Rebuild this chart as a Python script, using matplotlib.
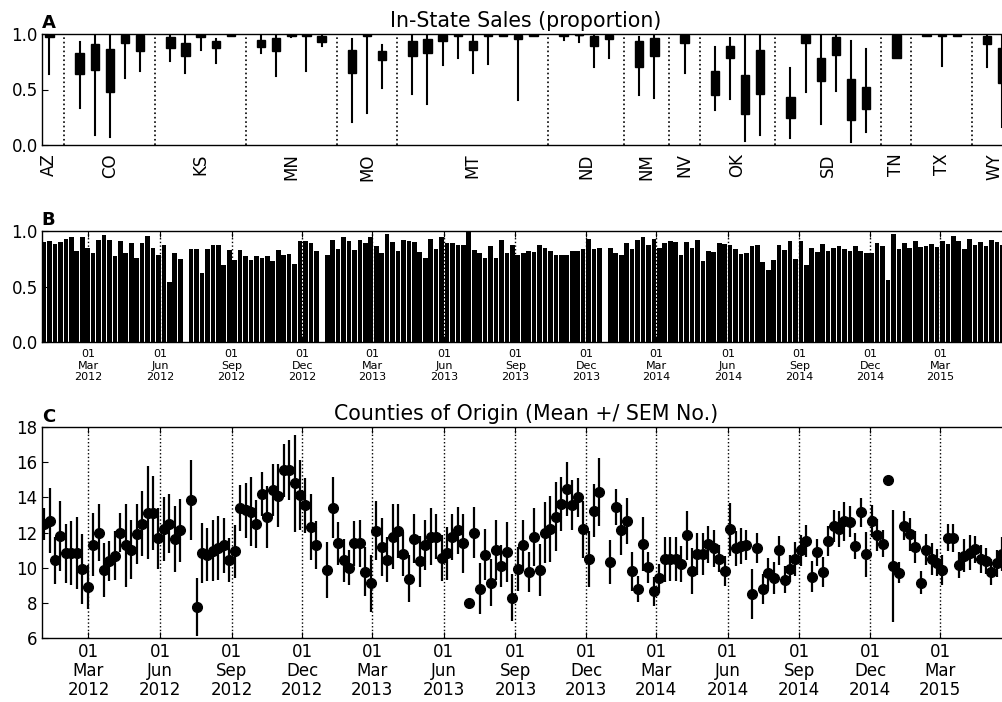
import numpy as np
import matplotlib
matplotlib.use('Agg')
import matplotlib.pyplot as plt
import matplotlib.dates as mdates
import matplotlib.transforms as mtransforms
import pandas as pd
from datetime import datetime

# ---------------- Panel A data: in-state sales proportion boxes ----------------
box_state = ['AZ',
             'CO', 'CO', 'CO', 'CO', 'CO',
             'KS', 'KS', 'KS', 'KS', 'KS',
             'MN', 'MN', 'MN', 'MN', 'MN',
             'MO', 'MO', 'MO',
             'MT', 'MT', 'MT', 'MT', 'MT', 'MT', 'MT', 'MT', 'MT',
             'ND', 'ND', 'ND', 'ND',
             'NM', 'NM',
             'NV',
             'OK', 'OK', 'OK', 'OK',
             'SD', 'SD', 'SD', 'SD', 'SD', 'SD',
             'TN',
             'TX', 'TX', 'TX',
             'WY', 'WY']
box_q1 = [0.975,
          0.64, 0.676, 0.477, 0.922, 0.847,
          0.874, 0.805, 0.976, 0.871, 0.982,
          0.886, 0.85, 0.98, 0.985, 0.928,
          0.652, 0.985, 0.763,
          0.799, 0.832, 0.94, 0.985, 0.856, 0.985, 0.982, 0.955, 0.982,
          0.982, 0.988, 0.892, 0.958,
          0.706, 0.805,
          0.922,
          0.453, 0.787, 0.282, 0.462,
          0.24, 0.922, 0.577, 0.808, 0.228, 0.327,
          0.781,
          0.982, 0.982, 0.982,
          0.91, 0.556]
box_q3 = [1.0,
          0.826, 0.913, 0.862, 0.988, 0.988,
          0.976, 0.922, 1.0, 0.934, 1.0,
          0.949, 0.961, 1.0, 1.0, 0.982,
          0.856, 1.0, 0.85,
          0.934, 0.952, 0.994, 1.0, 0.934, 1.0, 1.0, 0.994, 1.0,
          1.0, 1.0, 0.979, 0.991,
          0.94, 0.964,
          0.994,
          0.67, 0.892, 0.631, 0.856,
          0.429, 0.994, 0.784, 0.97, 0.592, 0.526,
          0.994,
          0.995, 0.995, 0.995,
          0.982, 0.871]
box_lo = [0.64,
          0.336, 0.087, 0.072, 0.607, 0.67,
          0.76, 0.649, 0.859, 0.736, 0.982,
          0.826, 0.625, 0.97, 0.67, 0.892,
          0.207, 0.285, 0.517,
          0.462, 0.372, 0.724, 0.787, 0.646, 0.733, 0.982, 0.405, 0.982,
          0.949, 0.931, 0.706, 0.787,
          0.447, 0.426,
          0.649,
          0.315, 0.417, 0.036, 0.093,
          0.063, 0.474, 0.192, 0.486, 0.03, 0.12,
          0.781,
          0.982, 0.715, 0.982,
          0.706, 0.159]
box_hi = [1.0,
          0.925, 1.0, 1.0, 1.0, 1.0,
          1.0, 1.0, 1.0, 0.955, 1.0,
          0.99, 1.0, 1.0, 1.0, 1.0,
          0.955, 1.0, 0.898,
          1.0, 1.0, 1.0, 1.0, 0.982, 1.0, 1.0, 1.0, 1.0,
          1.0, 1.0, 1.0, 1.0,
          0.973, 0.994,
          1.0,
          0.883, 0.961, 1.0, 1.0,
          0.69, 1.0, 1.0, 0.991, 0.94, 0.868,
          1.0,
          0.995, 0.995, 0.995,
          1.0, 1.0]

# ---------------- Panel B data: weekly in-state proportion ----------------
week_start = '2012-01-04'
instate_weekly = [
    0.90, 0.91, 0.88, 0.90, 0.93, 0.94, 0.82, 0.94, 0.85, 0.80,
    0.92, 0.96, 0.92, 0.77, 0.91, 0.80, 0.89, 0.76, 0.89, 0.95,
    0.85, 0.78, 0.87, 0.54, 0.80, 0.75, 0.00, 0.84, 0.84, 0.62,
    0.84, 0.87, 0.87, 0.69, 0.83, 0.74, 0.83, 0.77, 0.74, 0.77,
    0.76, 0.77, 0.73, 0.83, 0.78, 0.79, 0.70, 0.91, 0.91, 0.89,
    0.82, 0.00, 0.78, 0.92, 0.84, 0.94, 0.91, 0.83, 0.92, 0.89,
    0.94, 0.86, 0.80, 0.97, 0.90, 0.82, 0.92, 0.91, 0.90, 0.81,
    0.76, 0.93, 0.84, 0.94, 0.89, 0.89, 0.87, 0.87, 1.00, 0.83,
    0.80, 0.76, 0.86, 0.76, 0.92, 0.80, 0.87, 0.78, 0.80, 0.82,
    0.81, 0.87, 0.85, 0.82, 0.78, 0.78, 0.78, 0.82, 0.82, 0.84,
    0.93, 0.84, 0.85, 0.00, 0.85, 0.80, 0.78, 0.89, 0.84, 0.92,
    0.94, 0.875, 0.93, 0.85, 0.89, 0.91, 0.90, 0.78, 0.90, 0.845,
    0.92, 0.73, 0.82, 0.81, 0.89, 0.88, 0.87, 0.84, 0.79, 0.80,
    0.86, 0.87, 0.72, 0.645, 0.74, 0.87, 0.83, 0.91, 0.75, 0.91,
    0.69, 0.85, 0.81, 0.88, 0.815, 0.85, 0.86, 0.84, 0.82, 0.86,
    0.82, 0.80, 0.80, 0.89, 0.86, 0.56, 0.97, 0.84, 0.89, 0.85,
    0.91, 0.855, 0.865, 0.88, 0.855, 0.91, 0.88, 0.955, 0.907, 0.834,
    0.928, 0.873, 0.898, 0.864, 0.919, 0.898, 0.876, 0.88]

# ---------------- Panel C data: counties of origin mean and SEM ----------------
nan = np.nan
county_mean = [
    12.5, 12.67, 10.41, 11.8, 10.81, 10.81, 10.81, 9.92, 8.9, 11.3,
    12.0, 9.86, 10.37, 10.68, 12.0, 11.27, 11.02, 11.9, 12.5, 13.13,
    13.13, 11.67, 12.2, 12.5, 11.63, 12.12, nan, 13.85, 7.75, 10.83,
    10.74, 10.96, 11.12, 11.27, 10.41, 10.93, 13.4, 13.28, 13.19, 12.5,
    14.18, 12.87, 14.42, 14.1, 15.55, 15.57, 14.8, 14.14, 13.55, 12.31,
    11.29, nan, 9.86, 13.4, 11.38, 10.41, 10.0, 11.38, 11.38, 9.77,
    9.1, 12.1, 11.15, 10.45, 11.76, 12.09, 10.77, 9.37, 11.65, 10.35,
    11.3, 11.76, 11.76, 10.56, 10.81, 11.74, 12.12, 11.38, 8.0, 12.0,
    8.8, 10.74, 9.14, 11.0, 10.1, 10.87, 8.28, 9.9, 11.27, 9.75,
    11.76, 9.86, 12.0, 12.18, 12.9, 13.63, 14.5, 13.57, 14.0, 12.18,
    10.49, 13.25, 14.31, nan, 10.32, 13.44, 12.14, 12.67, 9.78, 8.78,
    11.34, 10.01, 8.64, 9.38, 10.47, 10.49, 10.49, 10.2, 11.84, 9.8,
    10.77, 10.77, 11.32, 11.1, 10.51, 9.8, 12.18, 11.1, 11.23, 11.3,
    8.49, 11.1, 8.8, 9.67, 9.4, 10.98, 9.31, 9.94, 10.51, 10.98,
    11.53, 9.48, 10.87, 9.75, 11.51, 12.37, 12.2, 12.64, 12.62, 11.21,
    13.15, 10.77, 12.64, 11.86, 11.36, 15.0, 10.11, 9.71, 12.39, 11.89,
    11.17, 9.14, 11.02, 10.49, 10.28, 9.86, 11.7, 11.7, 10.15, 10.68,
    10.85, 11.04, 10.49, 10.37, 9.75, 10.24, 10.77, 9.3]
county_sem = [
    0.9, 1.84, 1.33, 1.97, 1.68, 1.83, 2.06, 1.97, 1.26, 1.79,
    1.64, 1.56, 1.14, 1.38, 1.11, 2.37, 1.67, 1.72, 1.86, 2.66,
    2.12, 1.73, 1.8, 1.68, 1.88, 1.81, nan, 2.28, 1.66, 1.72,
    1.53, 1.73, 1.83, 1.56, 1.26, 1.52, 1.31, 1.57, 1.96, 1.37,
    1.25, 1.78, 1.47, 1.78, 1.52, 1.71, 2.76, 1.98, 1.58, 1.9,
    1.35, nan, 1.59, 1.74, 1.24, 1.24, 0.98, 1.3, 1.36, 1.4,
    1.64, 1.68, 1.65, 1.3, 1.84, 1.54, 1.24, 1.35, 1.41, 1.43,
    1.43, 1.62, 1.29, 1.31, 1.5, 1.3, 1.36, 1.69, 0.0, 1.44,
    1.45, 1.45, 1.35, 1.73, 1.19, 1.71, 1.35, 1.26, 1.43, 1.14,
    1.66, 1.48, 1.74, 1.88, 1.98, 1.55, 1.54, 1.43, 1.09, 1.62,
    1.59, 1.52, 1.93, nan, 1.26, 1.02, 1.43, 1.31, 1.09, 0.74,
    1.52, 0.88, 0.84, 0.81, 1.28, 1.24, 1.28, 1.02, 1.41, 1.33,
    1.19, 1.19, 1.05, 1.07, 0.79, 0.86, 1.52, 1.01, 1.03, 0.86,
    1.44, 0.86, 0.86, 0.89, 0.9, 0.83, 0.76, 0.76, 0.97, 0.87,
    0.9, 0.87, 0.78, 0.86, 0.86, 0.9, 1.05, 1.12, 0.87, 0.74,
    0.84, 1.28, 0.92, 0.92, 0.78, 0.0, 3.2, 0.6, 0.84, 0.92,
    0.9, 0.67, 0.88, 0.9, 0.78, 0.84, 0.76, 0.79, 0.76, 0.95,
    0.98, 0.76, 0.79, 0.76, 0.73, 0.76, 0.95, 0.8]

# ---------------- Styling ----------------
plt.rcParams.update({
    'font.family': 'DejaVu Sans',
    'font.size': 12,
    'xtick.direction': 'in', 'ytick.direction': 'in',
    'xtick.top': True, 'ytick.right': True,
    'xtick.major.size': 4, 'ytick.major.size': 4,
    'xtick.major.pad': 6, 'ytick.major.pad': 3,
    'axes.linewidth': 1.0,
})

FW, FH = 1003, 702
fig = plt.figure(figsize=(FW / 100, FH / 100), dpi=100)
fig.patch.set_facecolor('white')

L = 41.8 / FW
W = 968 / FW
axA = fig.add_axes([L, 1 - 145.0 / FH, W, 111.0 / FH])
axB = fig.add_axes([L, 1 - 342.3 / FH, W, 111.5 / FH])
axC = fig.add_axes([L, 1 - 637.7 / FH, W, 210.4 / FH])


def panel_letter(ax, letter):
    tr = mtransforms.offset_copy(ax.transAxes, fig=fig, x=0, y=5.5, units='dots')
    ax.text(0.0, 1.0, letter, transform=tr, fontsize=13, fontweight='bold',
            ha='left', va='baseline')


# ---------------- Panel A ----------------
positions, centers, seps, group_names = [], [], [], []
p = 1
i = 0
while i < len(box_state):
    st = box_state[i]
    n = 0
    while i + n < len(box_state) and box_state[i + n] == st:
        n += 1
    ps = list(range(p, p + n))
    positions += ps
    centers.append(np.mean(ps))
    group_names.append(st)
    seps.append(p + n)
    p += n + 1
    i += n

stats = []
for q1, q3, lo, hi in zip(box_q1, box_q3, box_lo, box_hi):
    stats.append(dict(med=(q1 + q3) / 2, q1=q1, q3=q3, whislo=lo, whishi=hi, fliers=[]))

axA.bxp(stats, positions=positions, widths=0.55, patch_artist=True,
        showcaps=False, showfliers=False,
        boxprops=dict(facecolor='black', edgecolor='black', linewidth=1),
        whiskerprops=dict(color='black', linewidth=1.5, linestyle='-'),
        medianprops=dict(color='black', linewidth=1))
for s in seps[:-1]:
    axA.axvline(s, color='black', linestyle=':', linewidth=1.2, zorder=0)
axA.set_xlim(0.5, 64.5)
axA.set_ylim(0, 1.0)
axA.set_yticks([0.0, 0.5, 1.0])
axA.set_yticklabels(['0.0', '0.5', '1.0'])
axA.set_xticks(centers)
axA.set_xticklabels(group_names, rotation=90)
axA.tick_params(axis='x', length=0, pad=6)
axA.set_title('In-State Sales (proportion)', fontsize=14.8, pad=5)
panel_letter(axA, 'A')

# ---------------- Panel B & C shared date axis ----------------
dates = pd.date_range(week_start, periods=len(instate_weekly), freq='7D')
x_left = datetime(2012, 1, 1)
x_right = datetime(2015, 5, 29, 14)


def date_axis(ax, size, spacing):
    ax.xaxis.set_major_locator(mdates.MonthLocator(bymonth=[3, 6, 9, 12], bymonthday=1))
    ax.xaxis.set_major_formatter(mdates.DateFormatter('%d\n%b\n%Y'))
    ax.set_xlim(x_left, x_right)
    ax.grid(True, axis='x', color='black', linestyle=':', linewidth=1)
    ax.set_axisbelow(True)
    for lab in ax.get_xticklabels():
        lab.set_fontsize(size)
        lab.set_linespacing(spacing)


axB.bar(dates, instate_weekly, width=6, color='black', linewidth=0, align='center')
axB.set_ylim(0, 1.0)
axB.set_yticks([0.0, 0.5, 1.0])
axB.set_yticklabels(['0.0', '0.5', '1.0'])
date_axis(axB, 8, 1.2)
axB.tick_params(axis='x', labelsize=8, pad=5)
panel_letter(axB, 'B')

dates_c = pd.date_range(week_start, periods=len(county_mean), freq='7D')
axC.errorbar(dates_c, county_mean, yerr=county_sem, fmt='o', color='black',
             markersize=7, markeredgecolor='black', elinewidth=1.6, capsize=0)
axC.set_ylim(6, 18)
axC.set_yticks(np.arange(6, 19, 2))
date_axis(axC, 12, 1.08)
axC.tick_params(axis='x', labelsize=12, pad=4)
axC.set_title('Counties of Origin (Mean +/ SEM No.)', fontsize=14.8, pad=5)
panel_letter(axC, 'C')

fig.savefig('out.png', dpi=100, facecolor='white')
